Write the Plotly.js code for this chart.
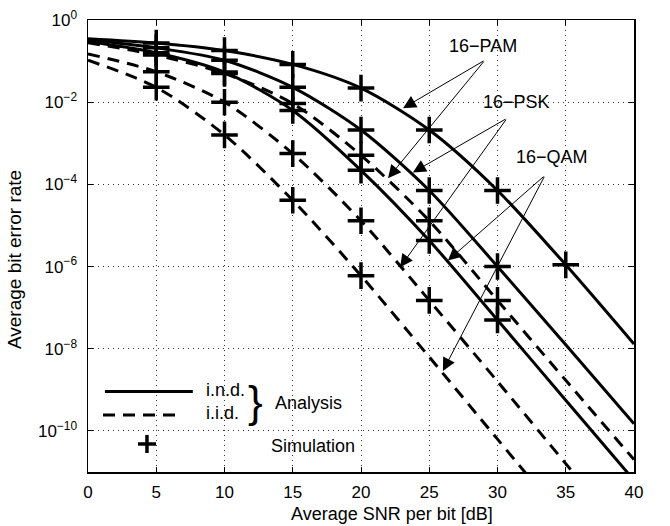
<!DOCTYPE html>
<html><head><meta charset="utf-8">
<script src="https://cdn.plot.ly/plotly-3.0.1.min.js"></script>
<style>html,body{margin:0;padding:0;background:#fff}#chart{width:670px;height:526px}</style>
</head><body><div id="chart"></div>
<script>
// SNR per bit [dB]
const snr = [0, 5, 10, 15, 20, 25, 30, 35, 40];
// Analysis, i.n.d. (solid)
const pamInd = [3.5e-1, 2.75e-1, 1.8e-1, 8.3e-2, 2.2e-2, 2.1e-3, 7.1e-5, 1.1e-6, 1.3e-8];
const pskInd = [3.3e-1, 2.1e-1, 1.05e-1, 2.3e-2, 2.1e-3, 7.1e-5, 1.0e-6, 1.25e-8, 1.5e-10];
const qamInd = [3.0e-1, 1.6e-1, 5.4e-2, 6.3e-3, 2.2e-4, 4.3e-6, 5.0e-8, 5.6e-10, 6.3e-12];
// Analysis, i.i.d. (dashed)
const pamIid = [2.8e-1, 1.4e-1, 5.0e-2, 9.3e-3, 5.1e-4, 1.3e-5, 1.5e-7, 1.7e-9, 2.0e-11];
const pskIid = [1.5e-1, 5.5e-2, 1.0e-2, 5.6e-4, 1.3e-5, 1.5e-7, 1.6e-9, 1.6e-11, 1.6e-13];
const qamIid = [1.05e-1, 2.3e-2, 1.6e-3, 4.1e-5, 6.0e-7, 6.3e-9, 6.3e-11, 6.3e-13, 6.3e-15];
// SNRs at which simulation points are shown
const simPamInd = [5, 10, 15, 20, 25, 30, 35];
const simPskInd = [5, 10, 15, 20, 25, 30];
const simQamInd = [5, 10, 15, 20, 25, 30];
const simPamIid = [5, 10, 15, 20, 25, 30];
const simPskIid = [5, 10, 15, 20, 25];
const simQamIid = [5, 10, 15, 20];
// Axis ticks
const xTicks = [0, 5, 10, 15, 20, 25, 30, 35, 40];
const yTickVals = [1, 1e-2, 1e-4, 1e-6, 1e-8, 1e-10];
const yTickText = ['10<sup>0</sup>', '10<sup>\u22122</sup>', '10<sup>\u22124</sup>', '10<sup>\u22126</sup>', '10<sup>\u22128</sup>', '10<sup>\u221210</sup>'];

const FONT = 'Liberation Sans, Arial, Helvetica, sans-serif';
const DASH = '12px,8px';

function lineTrace(y, dashed) {
  return {x: snr, y: y, mode: 'lines', type: 'scatter', showlegend: false, hoverinfo: 'skip',
    line: {color: '#000', width: 3, dash: dashed ? DASH : 'solid', shape: 'spline', smoothing: 0.8}};
}
function simTrace(xs, curve) {
  return {x: xs, y: xs.map(v => curve[snr.indexOf(v)]), mode: 'markers', type: 'scatter',
    showlegend: false, hoverinfo: 'skip',
    marker: {symbol: 'cross-thin', size: 19, color: '#000', line: {color: '#000', width: 3.5}}};
}

const data = [
  lineTrace(pamInd, false), lineTrace(pskInd, false), lineTrace(qamInd, false),
  lineTrace(pamIid, true), lineTrace(pskIid, true), lineTrace(qamIid, true),
  simTrace(simPamInd, pamInd), simTrace(simPskInd, pskInd), simTrace(simQamInd, qamInd),
  simTrace(simPamIid, pamIid), simTrace(simPskIid, pskIid), simTrace(simQamIid, qamIid)
];

function arrow(hx, hy, tx, ty) {
  return {x: hx, y: hy, ax: tx, ay: ty, xref: 'x', yref: 'y', axref: 'x', ayref: 'y',
    text: '', showarrow: true, arrowhead: 2, arrowsize: 2.6, arrowwidth: 1, arrowcolor: '#000', standoff: 0};
}
function label(text, x, y, anchor, size, extra) {
  return Object.assign({x: x, y: y, xref: 'paper', yref: 'paper', text: text, showarrow: false,
    xanchor: anchor, yanchor: 'middle', font: {family: FONT, size: size, color: '#000'}}, extra || {});
}

const annotations = [
  label('16\u2212PAM', 0.7234, 0.9425, 'center', 18),
  label('16\u2212PSK', 0.7857, 0.8186, 'center', 18),
  label('16\u2212QAM', 0.8498, 0.6969, 'center', 18),
  arrow(23.08, -2.146, 29.08, -0.976),
  arrow(21.98, -3.85, 29.08, -0.976),
  arrow(23.8, -3.71, 30.7, -2.39),
  arrow(22.86, -6.02, 30.7, -2.39),
  arrow(26.37, -5.85, 33.48, -3.78),
  arrow(26.0, -8.54, 33.48, -3.78),
  label('i.n.d.', 0.2125, 0.181, 'left', 18),
  label('i.i.d.', 0.2125, 0.1305, 'left', 18),
  label('}', 0.306, 0.157, 'center', 44),
  label('Analysis', 0.339, 0.1527, 'left', 18),
  label('Simulation', 0.3315, 0.0575, 'left', 18),
  label('Average SNR per bit [dB]', 0.557, -0.093, 'center', 18),
  label('Average bit error rate', -0.1355, 0.469, 'center', 19, {textangle: -90})
];

const shapes = [
  {type: 'line', xref: 'paper', yref: 'paper', x0: 0.031, x1: 0.192, y0: 0.178, y1: 0.178, line: {color: '#000', width: 3}},
  {type: 'line', xref: 'paper', yref: 'paper', x0: 0.0275, x1: 0.174, y0: 0.126, y1: 0.126, line: {color: '#000', width: 3, dash: DASH}},
  {type: 'line', xref: 'paper', yref: 'paper', x0: 0.108 - 0.0165, x1: 0.108 + 0.0165, y0: 0.062, y1: 0.062, line: {color: '#000', width: 3.5}},
  {type: 'line', xref: 'paper', yref: 'paper', x0: 0.108, x1: 0.108, y0: 0.062 - 0.02, y1: 0.062 + 0.02, line: {color: '#000', width: 3.5}}
];

const axisCommon = {
  showline: true, linecolor: '#000', linewidth: 1.5, mirror: 'ticks',
  ticks: 'inside', ticklen: 5, tickcolor: '#000', tickwidth: 1,
  showgrid: true, gridcolor: '#333', gridwidth: 1, griddash: '1px,4px',
  zeroline: false, tickfont: {family: FONT, size: 17, color: '#000'}
};

const layout = {
  width: 670, height: 526,
  margin: {l: 88, r: 36, t: 20, b: 54},
  paper_bgcolor: '#fff', plot_bgcolor: '#fff',
  showlegend: false,
  xaxis: Object.assign({}, axisCommon, {range: [0, 40], tickmode: 'array', tickvals: xTicks, ticktext: xTicks.map(String), ticklabelstandoff: 4}),
  yaxis: Object.assign({}, axisCommon, {type: 'log', range: [-11, 0], tickmode: 'array', tickvals: yTickVals, ticktext: yTickText, ticklabelstandoff: 6}),
  annotations: annotations,
  shapes: shapes
};

Plotly.newPlot('chart', data, layout, {displayModeBar: false, staticPlot: true});
</script>
</body></html>
